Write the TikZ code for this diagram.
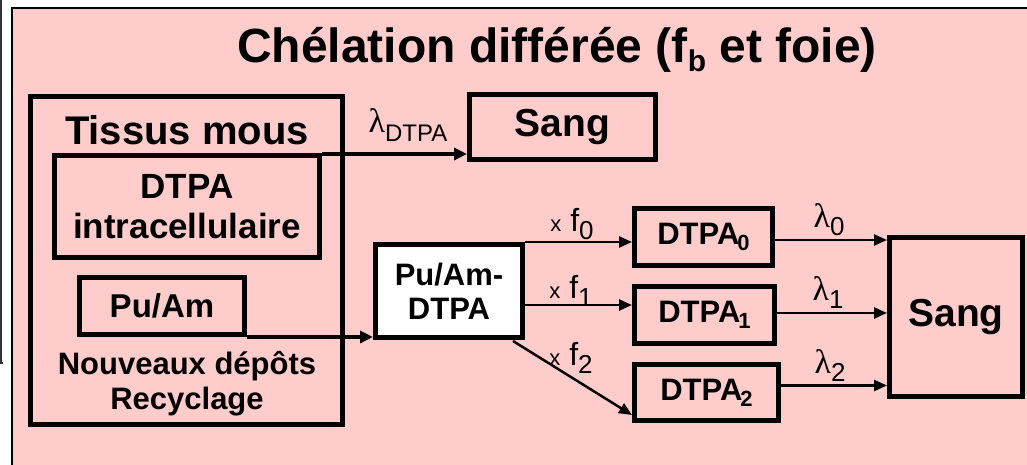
\documentclass[tikz,border=0pt]{standalone}
\usepackage{fontspec}
\setmainfont{Liberation Sans}
\newfontfamily\grk{Liberation Serif}
\usetikzlibrary{arrows.meta,calc}
\definecolor{bgpink}{HTML}{FFCCCC}
\newcommand{\fs}[1]{\fontsize{#1}{#1}\selectfont}
\tikzset{
  box/.style={draw, line width=5pt, inner sep=0pt, align=center, font=\bfseries\fs{33}},
  arr/.style={line width=2.5pt, -{Triangle[length=13pt,width=11pt]}},
  thickarr/.style={line width=3.5pt, -{Triangle[length=13pt,width=12pt]}},
  lbl/.style={inner sep=0pt, font=\fs{32}},
}
\begin{document}
\begin{tikzpicture}[x=1pt,y=-1pt]
\useasboundingbox (0,0) rectangle (1027,465);
% background
\fill[white] (0,0) rectangle (1027,465);
\fill[bgpink] (12,8) rectangle (1027,465);
\draw[line width=2pt] (12,465) -- (12,8) -- (1027,8);
\draw[line width=2pt, black!80] (1,0) -- (1,363) -- (3,363);
% title
\node[anchor=base, inner sep=0pt, font=\bfseries\fs{48}] (title) at (557,63)
  {Chélation différée (f\raisebox{-9pt}{\fs{30}b} et foie)};
% left compartment
\node[box, minimum width=312pt, minimum height=327pt] (tissus) at (186,260.5) {};
\node[inner sep=0pt, font=\bfseries\fs{40}] (tissustxt) at (187,130) {Tissus mous};
\node[box, minimum width=265pt, minimum height=102pt, font=\bfseries\fontsize{35}{40}\selectfont] (dtpaic) at (187,206.5)
  {DTPA\\intracellulaire};
\node[box, minimum width=165pt, minimum height=57pt] (puam) at (162,306) {Pu/Am};
\node[inner sep=0pt, align=center, font=\bfseries\fs{31}] (nouv) at (187,384)
  {Nouveaux dépôts\\[4pt]Recyclage};
% top blood
\node[box, minimum width=186pt, minimum height=65pt, font=\bfseries\fs{39}] (sangtop) at (562.5,127) {Sang};
% complex
\node[box, fill=white, minimum width=147pt, minimum height=93pt, font=\bfseries\fs{31}] (puamdtpa) at (449,291)
  {Pu/Am-\\[3pt]DTPA};
% DTPA compartments
\node[box, minimum width=138pt, minimum height=57pt, font=\bfseries\fs{31}] (d0) at (703.5,237)
  {DTPA\kern-2pt\raisebox{-6pt}{\fs{22}0}};
\node[box, minimum width=140pt, minimum height=57pt, font=\bfseries\fs{31}] (d1) at (704.5,315)
  {DTPA\kern-2pt\raisebox{-6pt}{\fs{22}1}};
\node[box, minimum width=144pt, minimum height=56pt, font=\bfseries\fs{31}] (d2) at (706.5,392.5)
  {DTPA\kern-2pt\raisebox{-6pt}{\fs{22}2}};
% right blood
\node[box, minimum width=133pt, minimum height=159pt, font=\bfseries\fs{39}] (sangr) at (956,317) {Sang};
% connectors
\draw[thickarr] ($(dtpaic.north east)+(0,1)$) -- ($(dtpaic.north east -| sangtop.west)+(0,1)$);
\draw[thickarr] (puam.south east) -- (puam.south east -| puamdtpa.west);
\draw[arr] (puamdtpa.north east) -- ($(puamdtpa.north east -| d0.west)$);
\draw[arr] ($(puamdtpa.east)+(0,14)$) -- ($(puamdtpa.east -| d1.west)+(0,14)$);
\draw[arr] ($(puamdtpa.south east)+(-12,1)$) -- ($(d2.south west)+(0,-8)$);
\draw[arr] ($(d0.east)+(0,3)$) -- ($(d0.east -| sangr.west)+(0,3)$);
\draw[arr] ($(d1.east)+(0,-2)$) -- ($(d1.east -| sangr.west)+(0,-2)$);
\draw[arr] ($(d2.east)+(0,-7)$) -- ($(d2.east -| sangr.west)+(0,-7)$);
% labels
\node[lbl] (ldtpa) at (408,125) {{\grk\fs{34}λ}\raisebox{-9pt}{\fs{24}DTPA}};
\node[lbl] (lf0) at (572,224) {{\fs{22}x} f\raisebox{-8pt}{\fs{26}0}};
\node[lbl] (lf1) at (571,291) {{\fs{22}x} f\raisebox{-8pt}{\fs{26}1}};
\node[lbl] (lf2) at (571,358) {{\fs{22}x} f\raisebox{-8pt}{\fs{26}2}};
\node[lbl] (l0) at (829,220) {{\grk\fs{34}λ}\raisebox{-8pt}{\fs{26}0}};
\node[lbl] (l1) at (828,293) {{\grk\fs{34}λ}\raisebox{-8pt}{\fs{26}1}};
\node[lbl] (l2) at (830,366) {{\grk\fs{34}λ}\raisebox{-8pt}{\fs{26}2}};
\end{tikzpicture}
\end{document}
